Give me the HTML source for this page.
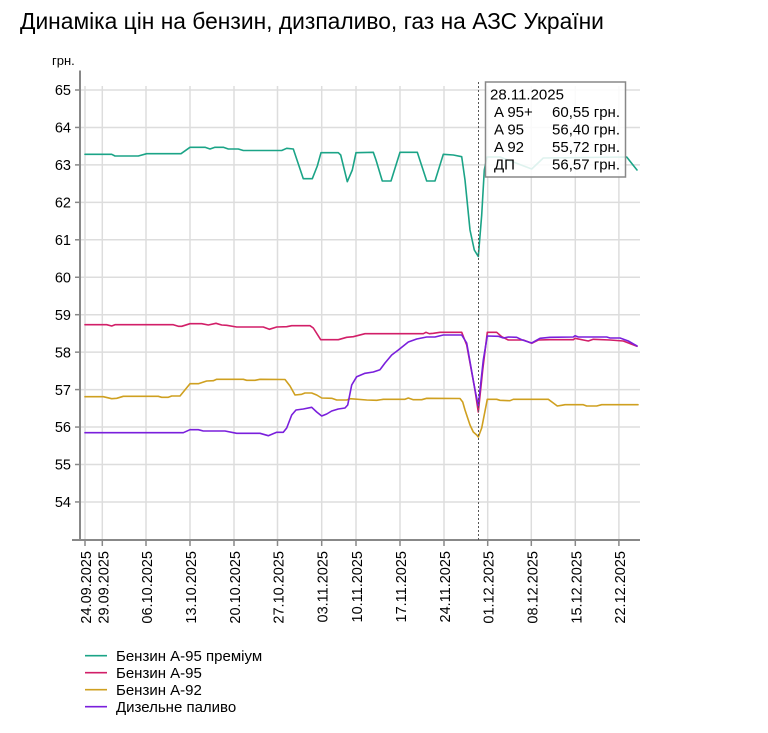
<!DOCTYPE html>
<html>
<head>
<meta charset="utf-8">
<style>
html,body{margin:0;padding:0;background:#fff;}
svg{display:block;}
text{font-family:"Liberation Sans",Arial,sans-serif;fill:#000;}
</style>
</head>
<body>
<svg width="768" height="733" viewBox="0 0 768 733" xmlns="http://www.w3.org/2000/svg">
<rect x="0" y="0" width="768" height="733" fill="#fff"/>
<text x="20" y="29" font-size="22.8">Динаміка цін на бензин, дизпаливо, газ на АЗС України</text>
<text x="52" y="65" font-size="13">грн.</text>

<!-- grid -->
<g stroke="#dddddd" stroke-width="1.5" fill="none">
<line x1="80" y1="90" x2="640" y2="90"/>
<line x1="80" y1="127.45" x2="640" y2="127.45"/>
<line x1="80" y1="164.9" x2="640" y2="164.9"/>
<line x1="80" y1="202.35" x2="640" y2="202.35"/>
<line x1="80" y1="239.8" x2="640" y2="239.8"/>
<line x1="80" y1="277.25" x2="640" y2="277.25"/>
<line x1="80" y1="314.7" x2="640" y2="314.7"/>
<line x1="80" y1="352.15" x2="640" y2="352.15"/>
<line x1="80" y1="389.6" x2="640" y2="389.6"/>
<line x1="80" y1="427.05" x2="640" y2="427.05"/>
<line x1="80" y1="464.5" x2="640" y2="464.5"/>
<line x1="80" y1="501.95" x2="640" y2="501.95"/>
<line x1="85" y1="86" x2="85" y2="540"/>
<line x1="102.3" y1="86" x2="102.3" y2="540"/>
<line x1="146" y1="86" x2="146" y2="540"/>
<line x1="190" y1="86" x2="190" y2="540"/>
<line x1="234" y1="86" x2="234" y2="540"/>
<line x1="277.5" y1="86" x2="277.5" y2="540"/>
<line x1="321.7" y1="86" x2="321.7" y2="540"/>
<line x1="356" y1="86" x2="356" y2="540"/>
<line x1="400" y1="86" x2="400" y2="540"/>
<line x1="444" y1="86" x2="444" y2="540"/>
<line x1="487.7" y1="86" x2="487.7" y2="540"/>
<line x1="531.3" y1="86" x2="531.3" y2="540"/>
<line x1="575.3" y1="86" x2="575.3" y2="540"/>
<line x1="618.9" y1="86" x2="618.9" y2="540"/>
</g>

<!-- axes -->
<g stroke="#888" stroke-width="2" fill="none">
<line x1="80" y1="70.5" x2="80" y2="541"/>
<line x1="72" y1="540" x2="640" y2="540"/>
</g>
<g stroke="#888" stroke-width="1.5">
<line x1="75" y1="90" x2="80" y2="90"/>
<line x1="75" y1="127.45" x2="80" y2="127.45"/>
<line x1="75" y1="164.9" x2="80" y2="164.9"/>
<line x1="75" y1="202.35" x2="80" y2="202.35"/>
<line x1="75" y1="239.8" x2="80" y2="239.8"/>
<line x1="75" y1="277.25" x2="80" y2="277.25"/>
<line x1="75" y1="314.7" x2="80" y2="314.7"/>
<line x1="75" y1="352.15" x2="80" y2="352.15"/>
<line x1="75" y1="389.6" x2="80" y2="389.6"/>
<line x1="75" y1="427.05" x2="80" y2="427.05"/>
<line x1="75" y1="464.5" x2="80" y2="464.5"/>
<line x1="75" y1="501.95" x2="80" y2="501.95"/>
<line x1="85" y1="540" x2="85" y2="546"/>
<line x1="102.3" y1="540" x2="102.3" y2="546"/>
<line x1="146" y1="540" x2="146" y2="546"/>
<line x1="190" y1="540" x2="190" y2="546"/>
<line x1="234" y1="540" x2="234" y2="546"/>
<line x1="277.5" y1="540" x2="277.5" y2="546"/>
<line x1="321.7" y1="540" x2="321.7" y2="546"/>
<line x1="356" y1="540" x2="356" y2="546"/>
<line x1="400" y1="540" x2="400" y2="546"/>
<line x1="444" y1="540" x2="444" y2="546"/>
<line x1="487.7" y1="540" x2="487.7" y2="546"/>
<line x1="531.3" y1="540" x2="531.3" y2="546"/>
<line x1="575.3" y1="540" x2="575.3" y2="546"/>
<line x1="618.9" y1="540" x2="618.9" y2="546"/>
</g>

<!-- y labels -->
<g font-size="14.5" text-anchor="end">
<text x="71" y="95.2">65</text>
<text x="71" y="132.6">64</text>
<text x="71" y="170.1">63</text>
<text x="71" y="207.5">62</text>
<text x="71" y="245">61</text>
<text x="71" y="282.4">60</text>
<text x="71" y="319.9">59</text>
<text x="71" y="357.3">58</text>
<text x="71" y="394.8">57</text>
<text x="71" y="432.2">56</text>
<text x="71" y="469.7">55</text>
<text x="71" y="507.1">54</text>
</g>

<!-- x labels -->
<g font-size="14.5" text-anchor="end">
<text transform="translate(91,551) rotate(-90)">24.09.2025</text>
<text transform="translate(108.3,551) rotate(-90)">29.09.2025</text>
<text transform="translate(152,551) rotate(-90)">06.10.2025</text>
<text transform="translate(196,551) rotate(-90)">13.10.2025</text>
<text transform="translate(240,551) rotate(-90)">20.10.2025</text>
<text transform="translate(283.5,551) rotate(-90)">27.10.2025</text>
<text transform="translate(327.7,551) rotate(-90)">03.11.2025</text>
<text transform="translate(362,551) rotate(-90)">10.11.2025</text>
<text transform="translate(406,551) rotate(-90)">17.11.2025</text>
<text transform="translate(450,551) rotate(-90)">24.11.2025</text>
<text transform="translate(493.7,551) rotate(-90)">01.12.2025</text>
<text transform="translate(537.3,551) rotate(-90)">08.12.2025</text>
<text transform="translate(581.3,551) rotate(-90)">15.12.2025</text>
<text transform="translate(624.9,551) rotate(-90)">22.12.2025</text>
</g>

<!-- series -->
<g fill="none" stroke-width="1.6" stroke-linejoin="round" stroke-linecap="round">
<polyline stroke="#1ba487" points="85,154.3 111.7,154.3 115,156 138.3,156 146.7,153.7 181,153.7 190,147.3 205,147.3 210,149 215,147.3 223.3,147.3 228.3,149 238.3,149 243.3,150.5 281.7,150.5 286.7,148.3 293.3,149 303.3,178.7 312.3,178.7 317.3,166 321,152.7 338.3,152.7 340.7,155 347.3,181.7 352.3,170 356,152.7 373.3,152.3 376,160 382.3,181 391,181 400,152.3 417.3,152.3 426.7,181 435,181 443.3,154.3 453.3,155 461.7,156.7 465,180 470,230 474.3,250 478.3,256.5 481.7,215 484.3,170 487,157 500,157 531.7,169 543.3,158 626.7,157 633,165 637,170"/>
<polyline stroke="#d21f68" points="85,324.7 106.7,324.7 111.7,326 115,324.7 173.3,324.7 178.3,326.3 181.7,326.3 190,323.7 201.7,323.7 208.3,325 216,323.3 221.7,325 226.7,325.3 236.7,327 263.3,327 269.3,329.3 276.7,327 286.7,326.7 291.7,325.7 310,325.7 313.3,328 320.7,339.7 338.3,339.7 346.7,337.3 353.3,336.7 365,333.7 423.3,333.7 426,332.3 429.3,333.7 433.3,333.3 440,332.3 461.7,332.3 466.7,345 475,390 478.3,412 482.7,370 487.3,332.3 496.7,332.3 501.7,336.7 508.3,340 523.3,340 531.7,343.3 538.3,340 550,339.7 573.3,339.7 575,338.3 583.3,340 588.3,341 593.3,339.3 610,340 623.3,341 637,346.3"/>
<polyline stroke="#cfa020" points="85,396.7 103.3,396.7 111.7,398.7 116.7,398.3 123.3,396.3 158.3,396.3 161.7,397.3 168.3,397.3 171.7,396 180,396 190,383.7 198.3,383.7 206.7,381 213.3,380.7 216.7,379.3 243.3,379.3 246.7,380.3 255,380.3 260,379.3 285,379.5 290,386 295,395 301.7,394.3 305,393 311.7,393 316.7,395 321.7,398 331.7,398.3 336.7,400 346.7,400 350,398.7 366.7,400 376.7,400.3 383.3,399.3 405,399.3 408.3,398 413.3,399.7 421.7,399.7 426.7,398.3 460,398.5 462.7,402 465,410 470,425 473.3,432 476.7,435 478.3,437 481.7,428 487.3,399.3 496.7,399.3 500,400.3 510,400.7 513.3,399.3 548.3,399.3 553.3,403 557.3,406 561.7,405.3 565,404.7 583.3,404.7 586.7,406 596.7,406 601.7,404.7 638,404.7"/>
<polyline stroke="#7a1fdc" points="85,432.7 183.3,432.7 190,429.7 198.3,429.7 203.3,431 225,431 236.7,433.3 260,433.3 268.3,435.7 276.7,432.3 283.3,432.3 286.7,428 291.7,415 296,410 303.3,409 311.7,407.3 316.7,412 321.7,416 326.7,414 331.7,411 338.3,409 345,408 347.7,405 351.7,385 356.7,376.7 365,373.3 373.3,372 380,369.7 385,363 391.7,355 398.3,350 408.3,342 416.7,339 426.7,337 435,337 443.3,335 461.7,335 466.7,343 475,390 478.3,405.7 483.3,360 487.3,336 498.3,336.3 503.3,338 508.3,337 516.7,337.3 521.7,339.7 531.7,343 540,338.3 550,337.3 573.3,337 575,335.7 578.3,337 606.7,337 610,338 620,338 628.3,341 637,346"/>
</g>

<!-- crosshair -->
<line x1="478.5" y1="82" x2="478.5" y2="540" stroke="#555" stroke-width="1" stroke-dasharray="2,2"/>

<!-- tooltip -->
<rect x="485.5" y="82" width="140" height="95" fill="#fff" fill-opacity="0.86" stroke="#888" stroke-width="1.5"/>
<g font-size="15">
<text x="490" y="99.5">28.11.2025</text>
<text x="494" y="117">A 95+</text>
<text x="494" y="134.5">A 95</text>
<text x="494" y="152">A 92</text>
<text x="494" y="169.5">ДП</text>
</g>
<g font-size="15" text-anchor="end">
<text x="620" y="117">60,55 грн.</text>
<text x="620" y="134.5">56,40 грн.</text>
<text x="620" y="152">55,72 грн.</text>
<text x="620" y="169.5">56,57 грн.</text>
</g>

<!-- legend -->
<g stroke-width="1.6">
<line x1="85" y1="655.7" x2="107" y2="655.7" stroke="#1ba487"/>
<line x1="85" y1="672.7" x2="107" y2="672.7" stroke="#d21f68"/>
<line x1="85" y1="689.7" x2="107" y2="689.7" stroke="#cfa020"/>
<line x1="85" y1="706.7" x2="107" y2="706.7" stroke="#7a1fdc"/>
</g>
<g font-size="15">
<text x="116" y="661">Бензин А-95 преміум</text>
<text x="116" y="678">Бензин А-95</text>
<text x="116" y="695">Бензин А-92</text>
<text x="116" y="712">Дизельне паливо</text>
</g>
</svg>
</body>
</html>
